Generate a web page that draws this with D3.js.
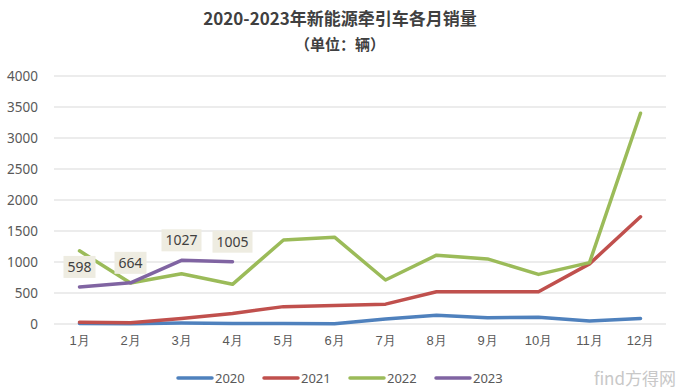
<!DOCTYPE html>
<html>
<head>
<meta charset="utf-8">
<script src="https://cdn.jsdelivr.net/npm/d3@7"></script>
<style>
  body { margin: 0; background: #fff; }
  svg { display: block; font-family: "Noto Sans CJK SC", "Noto Sans", sans-serif; }
</style>
</head>
<body>
<div class="plot"></div>
<script>
// DATA
var months = ["1月", "2月", "3月", "4月", "5月", "6月", "7月", "8月", "9月", "10月", "11月", "12月"];
var years = ["2020", "2021", "2022", "2023"];
var sales2020 = [10, 5, 15, 10, 8, 5, 80, 140, 100, 110, 50, 90];
var sales2021 = [30, 20, 90, 170, 280, 300, 320, 520, 520, 520, 970, 1730];
var sales2022 = [1180, 660, 810, 640, 1355, 1400, 710, 1110, 1050, 800, 990, 3400];
var sales2023 = [598, 664, 1027, 1005];
var yTicks = [0, 500, 1000, 1500, 2000, 2500, 3000, 3500, 4000];
var colors = ["#4f81bd", "#c0504d", "#9bbb59", "#8064a2"];

var series = [sales2020, sales2021, sales2022, sales2023];

// LAYOUT
var w = 680, h = 391;
var plotLeft = 54, plotRight = 666, plotTop = 76, plotBottom = 324;

var svg = d3.select(".plot").append("svg").attr("width", w).attr("height", h);

// SCALES
var xScale = d3.scaleBand().domain(months).range([plotLeft, plotRight]);
var yScale = d3.scaleLinear().domain([0, 4000]).range([plotBottom, plotTop]);

// TITLE
svg.append("text")
  .attr("x", w / 2).attr("y", 25)
  .attr("text-anchor", "middle")
  .attr("font-size", "17px").attr("font-weight", "bold")
  .attr("fill", "#404040")
  .text("2020-2023年新能源牵引车各月销量");
svg.append("text")
  .attr("x", w / 2).attr("y", 50)
  .attr("text-anchor", "middle")
  .attr("font-size", "15px").attr("font-weight", "bold")
  .attr("fill", "#404040")
  .text("（单位：辆）");

// GRIDLINES
svg.append("g")
  .selectAll("line")
  .data(yTicks)
  .enter()
  .append("line")
  .attr("x1", plotLeft).attr("x2", plotRight)
  .attr("y1", function (d) { return yScale(d); })
  .attr("y2", function (d) { return yScale(d); })
  .attr("stroke", "#d9d9d9")
  .attr("stroke-width", 1);

// Y AXIS
var yAxis = d3.axisLeft(yScale).tickValues(yTicks).tickFormat(d3.format("d")).tickSize(0).tickPadding(16);
var gy = svg.append("g").attr("transform", "translate(" + plotLeft + ",0)").call(yAxis);
gy.select(".domain").remove();
gy.selectAll("text").attr("font-size", "13.5px").attr("fill", "#595959")
  .attr("font-family", "Noto Sans, sans-serif");

// X AXIS
var xAxis = d3.axisBottom(xScale).tickSize(0).tickPadding(12);
var gx = svg.append("g").attr("transform", "translate(0," + plotBottom + ")").call(xAxis);
gx.select(".domain").remove();
gx.selectAll("text").attr("font-size", "13px").attr("fill", "#595959");

// LINES
var line = d3.line()
  .x(function (d, i) { return xScale(months[i]) + xScale.bandwidth() / 2; })
  .y(function (d) { return yScale(d); });

svg.append("g")
  .selectAll("path")
  .data(series)
  .enter()
  .append("path")
  .attr("d", line)
  .attr("fill", "none")
  .attr("stroke", function (d, i) { return colors[i]; })
  .attr("stroke-width", 3.5)
  .attr("stroke-linejoin", "round")
  .attr("stroke-linecap", "round");

// DATA LABELS FOR 2023
var labels = svg.append("g")
  .selectAll("g")
  .data(sales2023)
  .enter()
  .append("g")
  .attr("transform", function (d, i) {
    return "translate(" + (xScale(months[i]) + xScale.bandwidth() / 2) + "," + (yScale(d) - 20) + ")";
  });
labels.append("rect")
  .attr("x", function (d) { return d >= 1000 ? -20 : -16; })
  .attr("y", -11)
  .attr("width", function (d) { return d >= 1000 ? 40 : 32; })
  .attr("height", 22)
  .attr("fill", "#eeece1");
labels.append("text")
  .attr("text-anchor", "middle")
  .attr("dy", "0.35em")
  .attr("font-size", "14px")
  .attr("font-family", "Noto Sans, sans-serif")
  .attr("fill", "#404040")
  .text(function (d) { return d; });

// LEGEND
var legendX = [178, 264, 350, 436];
var legend = svg.append("g")
  .selectAll("g")
  .data(years)
  .enter()
  .append("g")
  .attr("transform", function (d, i) { return "translate(" + legendX[i] + ",378)"; });
legend.append("line")
  .attr("x1", 0).attr("x2", 34)
  .attr("stroke", function (d, i) { return colors[i]; })
  .attr("stroke-width", 3.5)
  .attr("stroke-linecap", "round");
legend.append("text")
  .attr("x", 37).attr("dy", "0.35em")
  .attr("font-size", "13px")
  .attr("font-family", "Noto Sans, sans-serif")
  .attr("fill", "#595959")
  .text(function (d) { return d; });

// WATERMARK
svg.append("text")
  .attr("x", 676).attr("y", 385)
  .attr("text-anchor", "end")
  .attr("font-size", "17px")
  .attr("fill", "#c8c8c8")
  .text("find方得网");
</script>
</body>
</html>
